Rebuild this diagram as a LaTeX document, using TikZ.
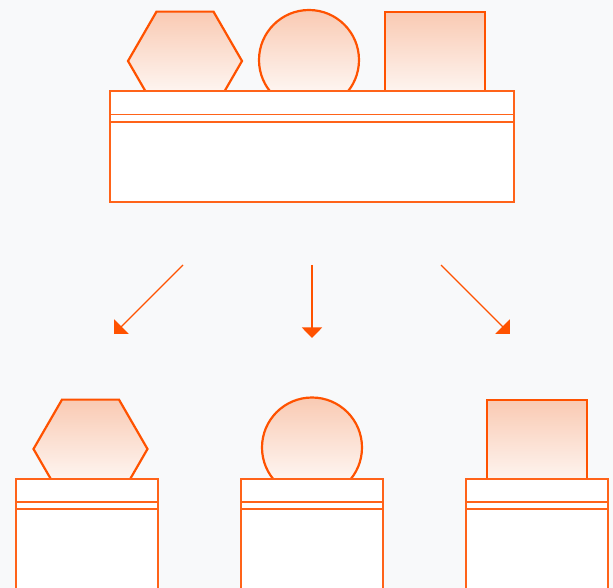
\documentclass[tikz,border=0pt]{standalone}
\usetikzlibrary{arrows.meta}

\definecolor{bgcol}{HTML}{F8F9FA}
\definecolor{edge}{HTML}{FF5200}
\definecolor{peach}{HTML}{F9CAB3}

\tikzset{
  part/.style={draw=edge, line width=1.25pt, top color=peach, bottom color=white},
  tray/.style={draw=edge!90, line width=0.7pt, fill=white},
  flow/.style={draw=edge, line width=0.7pt, -{Triangle[length=6pt,width=11.5pt]}}
}

\begin{document}
\begin{tikzpicture}[x=0.02cm, y=-0.02cm]
  % Canvas
  \useasboundingbox (0,0) rectangle (613,588);
  \fill[bgcol] (0,0) rectangle (613,588);
  \clip (0,0) rectangle (613,588);

  % Shape centres
  \coordinate (hexTop) at (185,61);
  \coordinate (circTop) at (309,60);
  \coordinate (sqTop) at (435,62);
  \coordinate (hexLeft) at (90.5,449);
  \coordinate (circMid) at (312,447.5);
  \coordinate (sqRight) at (537,450);

  % Shapes sitting on the big tray
  \draw[part] (hexTop) +(0:57) \foreach \a in {60,120,...,300} { -- +(\a:57) } -- cycle;
  \draw[part] (circTop) circle[radius=50];
  \draw[part] (sqTop) +(-50,-50) rectangle +(50,50);

  % Big tray
  \draw[tray] (110,91) rectangle (514,202);
  \draw[tray] (110,114.5) -- (514,114.5) (110,122) -- (514,122);

  % Arrow ends
  \coordinate (fromL) at (183,265);
  \coordinate (fromM) at (312,265);
  \coordinate (fromR) at (441,265);
  \coordinate (toL) at (114,334);
  \coordinate (toM) at (312,338);
  \coordinate (toR) at (510,334);

  % Arrows
  \draw[flow] (fromL) -- (toL);
  \draw[flow] (fromM) -- (toM);
  \draw[flow] (fromR) -- (toR);

  % Shapes on the small trays
  \draw[part] (hexLeft) +(0:57) \foreach \a in {60,120,...,300} { -- +(\a:57) } -- cycle;
  \draw[part] (circMid) circle[radius=50];
  \draw[part] (sqRight) +(-50,-50) rectangle +(50,50);

  % Small trays
  \foreach \x in {16,241,466} {
    \draw[tray] (\x,479) rectangle ++(142,130);
    \draw[tray] (\x,502) -- ++(142,0) (\x,509) -- ++(142,0);
  }
\end{tikzpicture}
\end{document}
